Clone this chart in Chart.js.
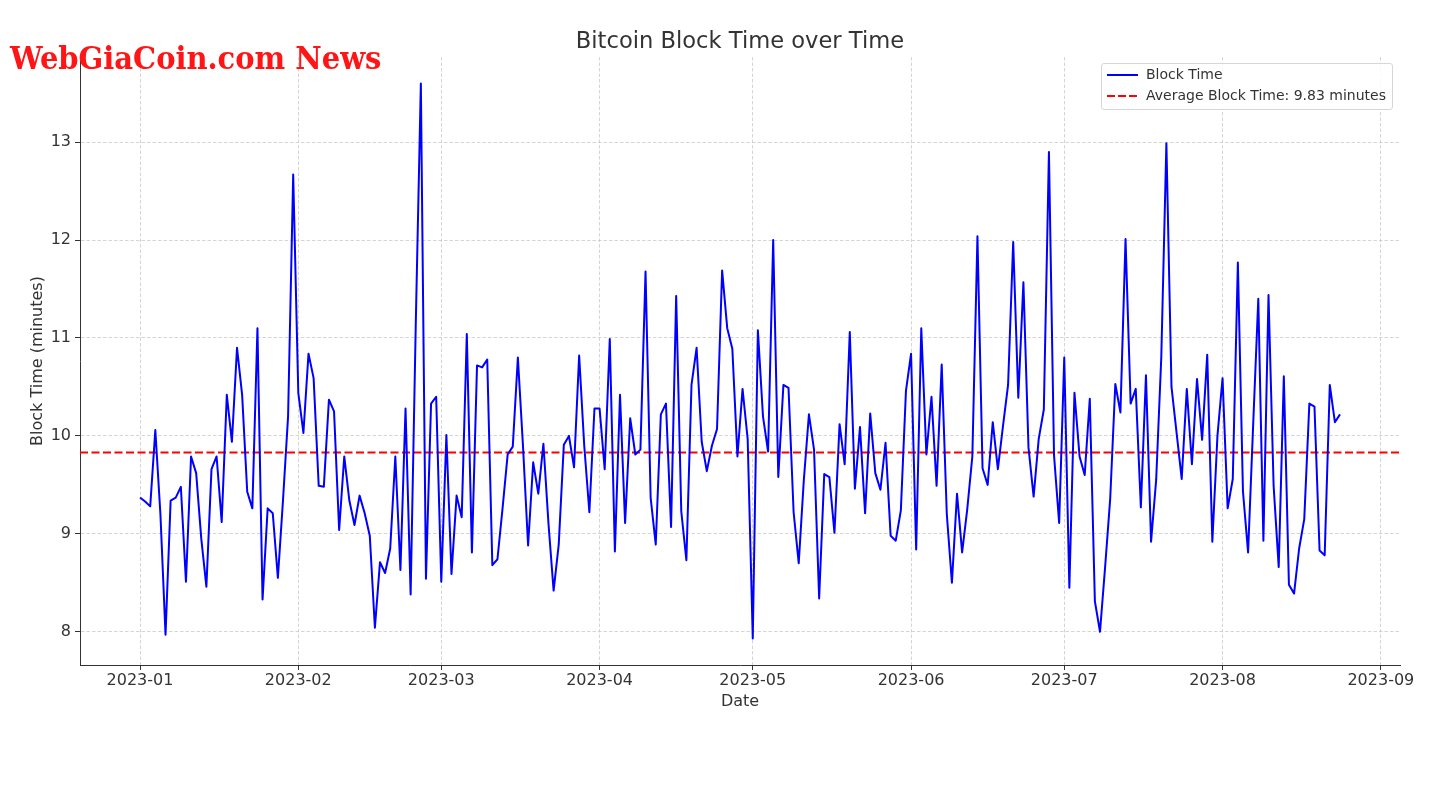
<!DOCTYPE html>
<html>
<head>
<meta charset="utf-8">
<script src="https://cdn.jsdelivr.net/npm/chart.js@4.4.0/dist/chart.umd.min.js"></script>
<style>
html,body{margin:0;padding:0;background:#fff;}
#wrap{position:relative;width:1441px;height:811px;overflow:hidden;}
#c{position:absolute;left:0;top:0;}
#title{position:absolute;left:80px;width:1320px;top:27px;line-height:26px;text-align:center;font-family:"DejaVu Sans";font-size:22.6px;color:#333;}
#wm{position:absolute;left:10px;top:38px;line-height:40px;font-family:"DejaVu Serif Condensed","DejaVu Serif";font-stretch:condensed;font-weight:bold;font-size:32.2px;color:#ff1515;white-space:nowrap;}
#legend{position:absolute;left:1101px;top:63px;width:290px;height:45px;border:1px solid #d6d6d6;border-radius:3px;background:rgba(255,255,255,0.85);font-family:"DejaVu Sans";font-size:14px;color:#333;}
.row{position:absolute;left:0;height:20px;width:100%;}
.sample{position:absolute;left:5px;width:31px;height:2px;top:9px;}
.lbl{position:absolute;left:44px;top:0px;line-height:18px;white-space:nowrap;}
</style>
</head>
<body>
<div id="wrap">
  <canvas id="c" width="1441" height="811"></canvas>
  <div id="title"></div>
  <div id="wm">WebGiaCoin.com News</div>
  <div id="legend">
    <div class="row" style="top:1px"><div class="sample" style="background:#0000ff"></div><div class="lbl" id="lbl1"></div></div>
    <div class="row" style="top:22px"><div class="sample" style="background:repeating-linear-gradient(90deg,#ff0000 0 7.7px,transparent 7.7px 11px)"></div><div class="lbl" id="lbl2"></div></div>
  </div>
</div>
<script>
// ---------------- DATA ----------------
const chartTitle = 'Bitcoin Block Time over Time';
const startDate = '2023-01-01';   // first daily observation
const blockTime = [
  9.37, 9.33, 9.28, 10.06, 9.20, 7.97, 9.34, 9.37, 9.48, 8.51,
  9.79, 9.62, 8.95, 8.46, 9.66, 9.79, 9.12, 10.42, 9.94, 10.90,
  10.42, 9.43, 9.26, 11.10, 8.33, 9.26, 9.21, 8.55, 9.34, 10.20,
  12.67, 10.44, 10.03, 10.84, 10.59, 9.49, 9.48, 10.37, 10.25, 9.04,
  9.79, 9.34, 9.09, 9.39, 9.21, 8.98, 8.04, 8.71, 8.60, 8.85,
  9.79, 8.63, 10.28, 8.38, 11.13, 13.60, 8.54, 10.33, 10.40, 8.51,
  10.01, 8.59, 9.39, 9.17, 11.04, 8.81, 10.72, 10.70, 10.78, 8.68,
  8.74, 9.26, 9.81, 9.89, 10.80, 9.90, 8.88, 9.73, 9.41, 9.92,
  9.10, 8.42, 8.89, 9.91, 10.00, 9.68, 10.82, 9.90, 9.22, 10.28,
  10.28, 9.66, 10.99, 8.82, 10.42, 9.11, 10.18, 9.81, 9.86, 11.68,
  9.37, 8.89, 10.22, 10.33, 9.07, 11.43, 9.23, 8.73, 10.52, 10.90,
  9.94, 9.64, 9.90, 10.07, 11.69, 11.10, 10.89, 9.79, 10.48, 9.97,
  7.93, 11.08, 10.20, 9.84, 12.00, 9.58, 10.52, 10.49, 9.22, 8.70,
  9.55, 10.22, 9.86, 8.34, 9.61, 9.58, 9.01, 10.12, 9.71, 11.06,
  9.46, 10.09, 9.21, 10.23, 9.62, 9.45, 9.93, 8.98, 8.93, 9.24,
  10.46, 10.84, 8.84, 11.10, 9.81, 10.40, 9.49, 10.73, 9.20, 8.50,
  9.41, 8.81, 9.25, 9.79, 12.04, 9.67, 9.50, 10.14, 9.66, 10.10,
  10.52, 11.98, 10.39, 11.57, 9.88, 9.38, 9.97, 10.27, 12.90, 9.80,
  9.11, 10.80, 8.45, 10.44, 9.79, 9.60, 10.38, 8.31, 8.00, 8.66,
  9.36, 10.53, 10.24, 12.01, 10.33, 10.48, 9.27, 10.62, 8.92, 9.55,
  10.80, 12.99, 10.50, 10.03, 9.56, 10.48, 9.71, 10.58, 9.96, 10.83,
  8.92, 10.00, 10.59, 9.26, 9.56, 11.77, 9.43, 8.81, 10.12, 11.40,
  8.93, 11.44, 9.49, 8.66, 10.61, 8.48, 8.39, 8.85, 9.15, 10.33,
  10.30, 8.83, 8.78, 10.52, 10.14, 10.22
];
const averageBlockTime = 9.83;
const seriesLabels = ['Block Time', 'Average Block Time: 9.83 minutes'];
const xTickLabels = ['2023-01','2023-02','2023-03','2023-04','2023-05','2023-06','2023-07','2023-08','2023-09'];
const yTickValues = [8, 9, 10, 11, 12, 13];
const xAxisTitle = 'Date';
const yAxisTitle = 'Block Time (minutes)';
// --------------------------------------

const DAY = 86400000;
const t0 = Date.parse(startDate + 'T00:00:00Z');
const dayOf = s => (Date.parse(s + (s.length === 7 ? '-01' : '') + 'T00:00:00Z') - t0) / DAY;
const xTickDays = xTickLabels.map(dayOf);

const linePts = blockTime.map((v, i) => ({x: i, y: v}));
const xMin = -11.75, xMax = 246.75;   // axis view range (days from start)
const yMin = 7.66, yMax = 13.87;
const avgPts = [{x: xMin, y: averageBlockTime}, {x: xMax, y: averageBlockTime}];

document.getElementById('title').textContent = chartTitle;
document.getElementById('lbl1').textContent = seriesLabels[0];
document.getElementById('lbl2').textContent = seriesLabels[1];

const FONT = 'DejaVu Sans';
const gridColor = 'rgba(195,195,195,0.7)';

new Chart(document.getElementById('c'), {
  type: 'line',
  data: {
    datasets: [
      {label: seriesLabels[0], data: linePts, borderColor: '#0000ff', borderWidth: 2, pointRadius: 0, tension: 0, borderJoinStyle: 'round', fill: false},
      {label: seriesLabels[1], data: avgPts, borderColor: '#ff0000', borderWidth: 2, borderDash: [8, 3.5], pointRadius: 0, tension: 0, fill: false}
    ]
  },
  options: {
    responsive: false,
    animation: false,
    devicePixelRatio: 1,
    layout: {padding: {left: 0, right: 41, top: 57, bottom: 96}},
    plugins: {legend: {display: false}, tooltip: {enabled: false}, title: {display: false}},
    scales: {
      x: {
        type: 'linear', min: xMin, max: xMax,
        afterFit(s) { s.height = 50; },
        afterBuildTicks(s) { s.ticks = xTickDays.map(v => ({value: v})); },
        ticks: {
          autoSkip: false, maxRotation: 0, minRotation: 0, padding: 1,
          font: {family: FONT, size: 16}, color: '#333',
          callback: (v) => { const k = xTickDays.indexOf(v); return k >= 0 ? xTickLabels[k] : ''; }
        },
        grid: {color: gridColor, lineWidth: 1, drawTicks: true, tickLength: 5, tickColor: '#333', tickWidth: 1, tickBorderDash: []},
        border: {display: true, color: '#333', width: 1, dash: [3.5, 2]},
        title: {display: true, text: xAxisTitle, color: '#333', font: {family: FONT, size: 16}, padding: {top: 0, bottom: 4}}
      },
      y: {
        type: 'linear', min: yMin, max: yMax,
        afterFit(s) { s.width = 80; },
        afterBuildTicks(s) { s.ticks = yTickValues.map(v => ({value: v})); },
        ticks: {padding: 4, font: {family: FONT, size: 16}, color: '#333', callback: v => String(v)},
        grid: {color: gridColor, lineWidth: 1, drawTicks: true, tickLength: 5, tickColor: '#333', tickWidth: 1, tickBorderDash: []},
        border: {display: true, color: '#333', width: 1, dash: [3.5, 2]},
        title: {display: true, text: yAxisTitle, color: '#333', font: {family: FONT, size: 16}, padding: {top: 28, bottom: 0}}
      }
    }
  }
});
</script>
</body>
</html>
